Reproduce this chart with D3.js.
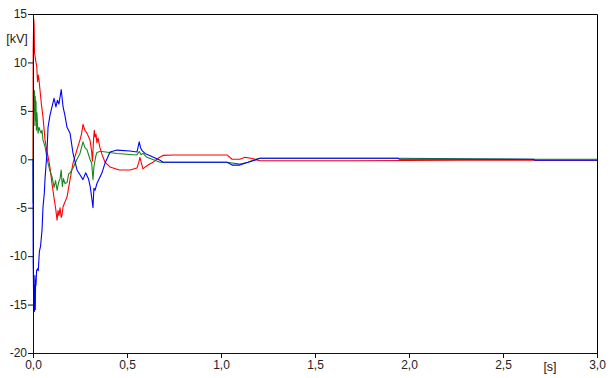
<!DOCTYPE html>
<html>
<head>
<meta charset="utf-8">
<script src="https://cdn.jsdelivr.net/npm/d3@7"></script>
<style>
  body { margin: 0; background: #fff; }
  svg text { font-family: "Liberation Sans", Arial, sans-serif; font-size: 12px; fill: #222; }
</style>
</head>
<body>
<svg id="chart" width="616" height="378"></svg>
<script>
// ticks
var xTicks = [0, 0.5, 1.0, 1.5, 2.0, 2.5, 3.0];
var yTicks = [-20, -15, -10, -5, 0, 5, 10, 15];

// series: [time s, voltage kV]
var red = [[0,0],[0.001,11.3],[0.004,14.5],[0.006,13.8],[0.008,11],[0.012,10.5],[0.016,10],[0.02,9.6],
  [0.024,8],[0.028,8.7],[0.032,8.2],[0.037,7.2],[0.045,5.6],[0.053,4.4],[0.064,2],[0.074,0.8],[0.08,0.3],
  [0.09,-0.8],[0.101,-2.5],[0.112,-4],[0.12,-5],[0.128,-6.3],[0.133,-5.3],[0.138,-5.8],[0.144,-5],[0.15,-6],
  [0.154,-5.8],[0.16,-4.9],[0.17,-4.4],[0.181,-3.9],[0.197,-2.1],[0.213,-0.4],[0.234,1],[0.25,2],[0.258,2.6],
  [0.266,3.6],[0.276,3],[0.287,2.7],[0.303,2],[0.312,0.8],[0.316,-0.2],[0.322,2],[0.326,3],[0.33,2.3],
  [0.335,2.6],[0.34,1.7],[0.346,2.2],[0.356,1.2],[0.367,0.5],[0.383,-0.3],[0.41,-0.8],[0.426,-0.9],
  [0.46,-1.1],[0.516,-1.1],[0.553,-0.9],[0.562,-0.4],[0.569,0.2],[0.575,-0.3],[0.585,-1],[0.596,-0.8],
  [0.612,-0.6],[0.638,-0.3],[0.665,0.1],[0.691,0.4],[0.75,0.45],[1.032,0.45],[1.059,0],[1.1,0],[1.128,0.2],
  [1.16,0.1],[1.207,-0.15],[1.686,-0.15],[2.287,-0.1],[3,-0.1]];

var green = [[0,0],[0.001,-4.5],[0.002,3],[0.004,6.5],[0.006,5],[0.008,7.1],[0.01,3.5],[0.012,6.5],
  [0.014,4],[0.016,6],[0.018,3],[0.021,4.8],[0.024,3.5],[0.027,2.7],[0.032,3.3],[0.037,3],[0.043,2.7],
  [0.048,3],[0.053,2],[0.064,1.3],[0.074,0.2],[0.08,-0.4],[0.09,-1.2],[0.101,-1.8],[0.112,-2.9],[0.12,-2.2],
  [0.128,-3.2],[0.136,-2.4],[0.144,-2],[0.15,-1.1],[0.156,-2.8],[0.162,-2],[0.17,-2.5],[0.181,-2.4],
  [0.19,-1.5],[0.197,-1.4],[0.213,-0.9],[0.234,0],[0.25,0.6],[0.266,1.8],[0.276,1.2],[0.287,1],[0.303,0],
  [0.312,-0.4],[0.319,-2.1],[0.324,-0.8],[0.33,-0.1],[0.335,0.4],[0.34,0.7],[0.356,0.8],[0.367,0.8],
  [0.447,0.6],[0.553,0.45],[0.565,0.8],[0.574,0.5],[0.585,0.6],[0.606,0.2],[0.676,-0.3],[0.745,-0.3],
  [1.032,-0.3],[1.1,-0.5],[1.144,-0.3],[1.181,0],[1.207,0.1],[1.941,0.1],[2.66,0],[3,0]];

var blue = [[0,0],[0.001,-10.5],[0.004,-15.5],[0.006,-13],[0.008,-15.7],[0.01,-12],[0.012,-15.5],
  [0.014,-12.5],[0.016,-13],[0.019,-11.5],[0.024,-11.3],[0.028,-11.5],[0.034,-9.5],[0.04,-9],[0.048,-7.3],
  [0.053,-5],[0.06,-3.5],[0.064,-2],[0.074,0.6],[0.08,3.3],[0.09,4.5],[0.101,5.4],[0.112,6.3],[0.122,5.4],
  [0.13,6.1],[0.138,5.7],[0.15,7.2],[0.16,5.4],[0.17,4.5],[0.181,3.3],[0.197,2.7],[0.213,0.6],[0.234,-1.1],
  [0.25,-1.6],[0.266,-2.1],[0.28,-1.4],[0.295,-2],[0.305,-2.9],[0.314,-4.2],[0.319,-5],[0.324,-3],
  [0.33,-3.2],[0.34,-2.5],[0.367,-1.4],[0.383,-0.4],[0.41,0.75],[0.447,0.95],[0.516,0.85],[0.553,0.75],
  [0.565,1.8],[0.572,1.2],[0.58,0.9],[0.596,0.6],[0.62,0.4],[0.676,-0.1],[0.691,-0.3],[0.745,-0.3],
  [1.032,-0.3],[1.06,-0.6],[1.1,-0.6],[1.144,-0.3],[1.18,-0.1],[1.207,0.1],[1.941,0.1],[1.95,0],
  [2.66,0],[2.67,-0.1],[3,-0.1]];

var plotLeft = 33, plotRight = 597, plotTop = 14, plotBottom = 353;
var svg = d3.select("#chart");

var x = d3.scaleLinear().domain([0, 3]).range([plotLeft, plotRight]);
var y = d3.scaleLinear().domain([-20, 15]).range([plotBottom, plotTop]);

var line = d3.line().x(d => x(d[0])).y(d => y(d[1]));

// frame top + right
svg.append("path")
  .attr("d", "M" + plotLeft + "," + (plotTop + 0.5) + "H" + (plotRight + 0.5) + "V" + plotBottom)
  .attr("fill", "none").attr("stroke", "#000").attr("stroke-width", 1);

var series = [{data: red, color: "#ff0000"}, {data: green, color: "#1b861b"}, {data: blue, color: "#0000ff"}];
svg.selectAll("path.series")
  .data(series)
  .enter()
  .append("path")
  .attr("class", "series")
  .attr("d", d => line(d.data))
  .attr("fill", "none")
  .attr("stroke", d => d.color)
  .attr("stroke-width", 1.1)
  .attr("stroke-linejoin", "round");

var fmtX = d => d.toFixed(1).replace(".", ",");
var fmtY = d => String(d); // plain hyphen minus like the original

var xAxis = svg.append("g")
  .attr("transform", "translate(0," + plotBottom + ")")
  .call(d3.axisBottom(x).tickValues(xTicks).tickFormat(fmtX).tickSize(5).tickSizeOuter(0));
var yAxis = svg.append("g")
  .attr("transform", "translate(" + plotLeft + ",0)")
  .call(d3.axisLeft(y).tickValues(yTicks).tickFormat(fmtY).tickSize(5).tickSizeOuter(0));

[xAxis, yAxis].forEach(function(g) {
  g.selectAll("path, line").attr("stroke", "#111");
  g.selectAll("text").attr("font-size", 12.5).attr("font-family", null).style("fill", "#222");
});
yAxis.selectAll("text").attr("x", -6);
xAxis.selectAll("text").attr("y", 7);

svg.append("text").attr("x", 17).attr("y", 43).attr("text-anchor", "middle").style("font-size", "12.5px").text("[kV]");
svg.append("text").attr("x", 550).attr("y", 371).attr("text-anchor", "middle").style("font-size", "12.5px").text("[s]");
</script>
</body>
</html>
